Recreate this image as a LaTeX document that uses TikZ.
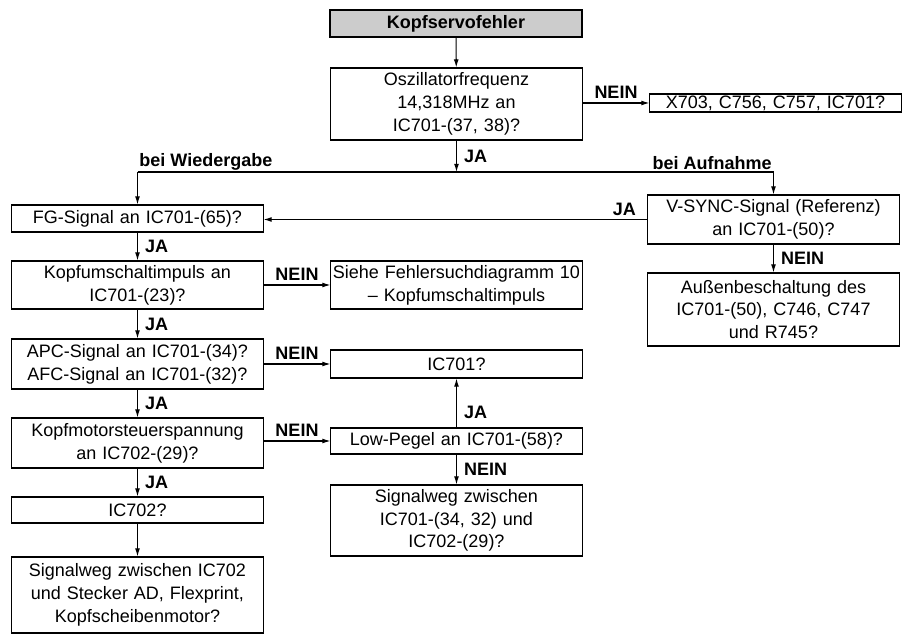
\documentclass[tikz,border=0pt]{standalone}
\usepackage{fontspec}
\setmainfont{Liberation Sans}
\usetikzlibrary{arrows.meta}
\newcommand{\boxfont}{\fontsize{12.8}{16.2}\selectfont}
\tikzset{
  box/.default={27},
  box/.style={draw, line width=0.75pt, inner sep=0pt, text width=6.275cm,
    align=center, minimum height=#1*0.025cm, font=\boxfont},
  lab/.style={font=\boxfont\bfseries, inner sep=1pt},
  conn/.style={line width=0.75pt, -{Latex[length=2mm,width=1.2mm]}}
}

\begin{document}
\begin{tikzpicture}[x=0.025cm, y=-0.025cm]
  \useasboundingbox (0,0) rectangle (910,636);
  \node[box, fill=gray!40, line width=1.4pt, font=\boxfont\bfseries] (start) at (456,23.5) {Kopfservofehler};
  \node[box=72] (osz) at (456.5,104) {Oszillatorfrequenz\\14,318MHz an\\IC701-(37, 38)?};
  \node[box=18] (xchk) at (775.5,103) {X703, C756, C757, IC701?};
  \coordinate (bus) at (0,172);
  \node[box] (fg) at (137.5,218.5) {FG-Signal an IC701-(65)?};
  \node[box=49] (vsync) at (773.5,219.5) {V-SYNC-Signal (Referenz)\\an IC701-(50)?};
  \node[box=73] (aussen) at (773.5,309.5) {Außenbeschaltung des\\IC701-(50), C746, C747\\und R745?};
  \node[box=48] (kumsch) at (137.5,285) {Kopfumschaltimpuls an\\IC701-(23)?};
  \node[box=48] (siehe) at (456.5,285) {Siehe Fehlersuchdiagramm 10\\– Kopfumschaltimpuls};
  \node[box=50] (apc) at (137.5,364) {APC-Signal an IC701-(34)?\\AFC-Signal an IC701-(32)?};
  \node[box=28] (icsi) at (456.5,364) {IC701?};
  \node[box=50] (kmot) at (137.5,443) {Kopfmotorsteuerspannung\\an IC702-(29)?};
  \node[box=26] (lowp) at (456.5,441) {Low-Pegel an IC701-(58)?};
  \node[box=71] (sweg) at (456.5,520.5) {Signalweg zwischen\\IC701-(34, 32) und\\IC702-(29)?};
  \node[box=26] (icz) at (137.5,510) {IC702?};
  \node[box=76] (motor) at (137.5,595) {Signalweg zwischen IC702\\und Stecker AD, Flexprint,\\Kopfscheibenmotor?};

  \draw[conn] (start) -- (osz);
  \draw[conn] (osz.east |- xchk.west) -- node[lab, above=1.5pt] (nein1) {NEIN} (xchk.west);
  \draw[conn] (osz) -- node[lab, right=4pt] (ja1) {JA} (osz |- bus);
  \draw[conn] (fg |- bus) node[lab, above right] (wied) {bei Wiedergabe} -- (vsync |- bus)
    node[lab, above left] (aufn) {bei Aufnahme} -- (vsync);
  \draw[conn] (fg |- bus) -- (fg);
  \draw[conn] (vsync) -- node[lab, pos=0.06, above=1.5pt] (ja2) {JA} (vsync -| fg.east);
  \draw[conn] (vsync) -- node[lab, right=4pt] (nein2) {NEIN} (aussen);
  \foreach \a/\b/\n in {fg/kumsch/3, kumsch/apc/4, apc/kmot/5, kmot/icz/6}
    \draw[conn] (\a) -- node[lab, right=4pt] (ja\n) {JA} (\b);
  \draw[conn] (icz) -- (motor);
  \foreach \a/\b/\n in {kumsch/siehe/3, apc/icsi/4, kmot/lowp/5}
    \draw[conn] (\a.east |- \b.west) -- node[lab, above=1.5pt] (nein\n) {NEIN} (\b.west);
  \draw[conn] (lowp) -- node[lab, pos=0.3, right=4pt] (ja7) {JA} (icsi);
  \draw[conn] (lowp) -- node[lab, right=4pt] (nein6) {NEIN} (sweg);
\end{tikzpicture}
\end{document}
